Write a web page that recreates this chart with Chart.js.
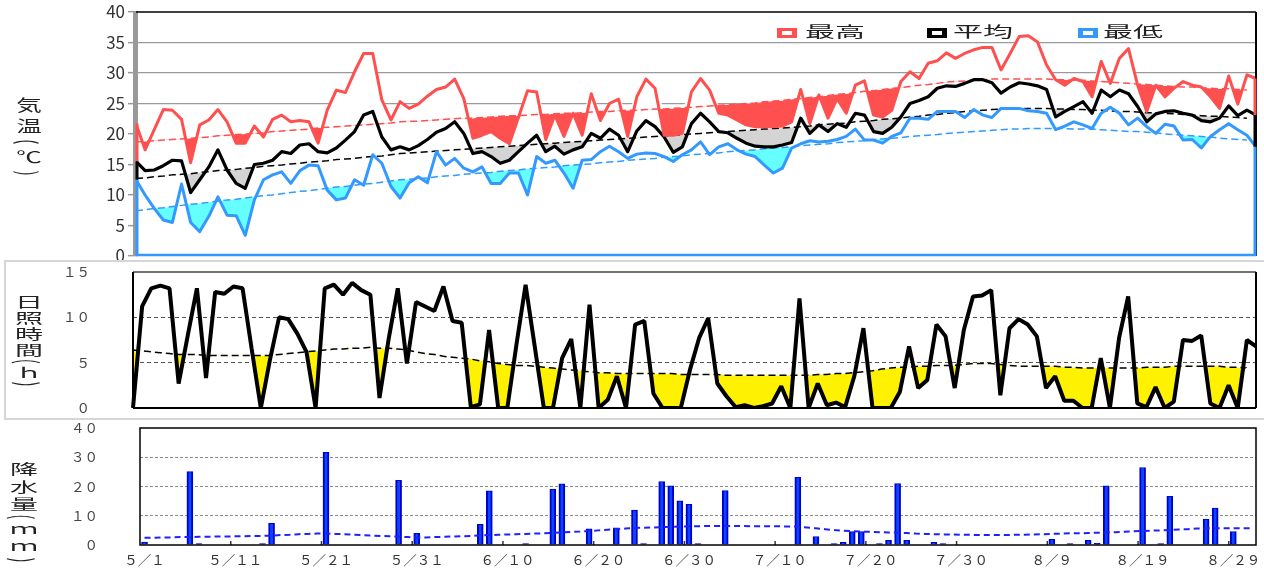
<!DOCTYPE html>
<html lang="ja">
<head>
<meta charset="utf-8">
<title>気温・日照時間・降水量</title>
<script src="https://cdn.jsdelivr.net/npm/chart.js@4.4.1/dist/chart.umd.min.js"></script>
<style>
body { margin: 0; background: #fff; font-family: "Noto Sans CJK JP", "Noto Sans", sans-serif; }
#wrap { position: relative; width: 1264px; height: 568px; overflow: hidden; }
canvas { position: absolute; left: 0; }
#tempChart { top: 0; }
#sunChart { top: 262px; }
#rainChart { top: 420px; }
.rule { position: absolute; background: #d6d6d6; }
.ytitle { position: absolute; writing-mode: vertical-rl; color: #222; transform-origin: center; white-space: nowrap; }
#t1 { left: 21px; top: 97px; font-size: 16px; line-height: 16px; letter-spacing: 5px; transform: scaleX(1.6); }
#t2 { left: 22px; top: 295px; font-size: 14px; line-height: 14px; letter-spacing: 2px; transform: scaleX(2); }
#t3 { left: 17px; top: 462px; font-size: 14px; line-height: 14px; letter-spacing: 3.5px; transform: scaleX(2); }
.lbox { position: absolute; top: 28px; width: 20px; height: 10px; box-sizing: border-box; border-style: solid; border-width: 3px 5px; background: #fff; }
.ltext { position: absolute; top: 23px; font-size: 15px; line-height: 15px; color: #222; transform: scaleX(2); transform-origin: left top; white-space: nowrap; }
</style>
</head>
<body>
<div id="wrap">
  <canvas id="tempChart" width="1264" height="262"></canvas>
  <canvas id="sunChart" width="1264" height="158"></canvas>
  <canvas id="rainChart" width="1264" height="148"></canvas>

  <div class="rule" style="left:4px; top:260px; width:1260px; height:2px"></div>
  <div class="rule" style="left:4px; top:260px; width:2px; height:160px"></div>
  <div class="rule" style="left:4px; top:418px; width:1260px; height:2px"></div>

  <div class="ytitle" id="t1">気温(℃)</div>
  <div class="ytitle" id="t2">日照時間(ｈ)</div>
  <div class="ytitle" id="t3">降水量(ｍｍ)</div>

  <div class="lbox" style="left:777px; border-color:#ff5050"></div>
  <div class="ltext" style="left:805px">最高</div>
  <div class="lbox" style="left:927px; border-color:#000"></div>
  <div class="ltext" style="left:953px">平均</div>
  <div class="lbox" style="left:1078px; border-color:#3399ff"></div>
  <div class="ltext" style="left:1103px">最低</div>
</div>

<script>
/*----- constants -----*/
const FONT = '"Noto Sans CJK JP", "Noto Sans", sans-serif'
const RED = '#ff5050'
const BLUE = '#3399ff'
const CYAN = '#66ffff'
const GRAY_FILL = '#d4d4d4'
const YELLOW = '#fff200'
const CLEAR = 'rgba(0,0,0,0)'

// 5/1 .. 9/1
const months = [5, 6, 7, 8, 9]
const monthDays = [31, 30, 31, 31, 1]
const days = []
months.forEach((m, k) => { for (let d = 1; d <= monthDays[k]; d++) days.push(m + '/' + d) })
const rainDays = days.slice(0, 123)
const labelEvery = 10

// temperature (℃), one value per day 5/1 .. 9/1
const maxTemp = [
  21.7,17.4,20.7,24.0,23.9,22.4,15.3,21.5,22.3,24.0,
  22.0,18.5,18.5,21.3,19.5,22.4,23.1,22.0,22.2,22.0,
  18.5,23.9,27.2,26.8,30.2,33.2,33.2,25.6,22.3,25.3,
  24.2,24.9,26.2,27.3,27.7,29.0,25.8,19.3,19.8,20.4,
  19.3,18.4,22.7,27.1,26.9,19.1,23.1,19.6,23.4,19.8,
  26.6,22.2,25.0,25.7,19.6,26.1,29.0,27.5,19.8,19.8,
  20.1,26.9,29.1,27.2,23.4,23.1,22.3,21.5,21.2,21.2,
  21.2,21.3,22.0,27.3,21.7,26.4,22.6,25.8,23.4,28.0,
  28.7,23.1,22.8,23.9,28.6,30.2,29.1,31.6,32.0,33.3,
  32.4,33.2,33.8,34.2,34.2,30.5,33.2,36.0,36.1,35.1,
  31.3,28.9,28.0,29.1,28.6,26.1,31.9,28.3,32.4,34.0,
  28.0,23.7,28.0,26.1,27.5,28.6,28.0,27.7,26.1,24.2,
  29.5,24.9,29.7,29.1]
const avgTemp = [
  15.5,14.0,14.1,14.8,15.7,15.6,10.4,12.5,14.6,17.4,
  14.1,11.9,11.1,15.0,15.2,15.7,17.1,16.8,18.2,18.4,
  17.1,16.9,17.7,19.0,20.4,23.1,23.7,19.5,17.4,17.9,
  17.4,18.1,19.1,20.3,20.9,22.0,20.1,16.8,17.1,16.3,
  15.2,15.7,17.1,18.5,19.8,17.1,18.0,16.7,17.4,17.9,
  20.1,19.3,20.8,19.8,17.1,20.5,22.2,21.2,19.5,17.0,
  17.9,21.7,23.4,22.0,20.4,20.2,19.3,18.5,18.0,17.9,
  17.9,18.2,18.6,22.6,20.1,21.5,20.4,21.7,21.1,23.4,
  23.1,20.4,20.1,21.1,22.8,25.0,25.5,26.1,27.5,27.9,
  27.8,28.3,28.9,28.9,28.4,26.7,27.7,28.4,28.2,27.9,
  27.3,22.8,23.7,24.5,25.3,23.4,27.2,26.1,27.2,26.6,
  24.5,22.0,23.3,23.7,23.8,23.4,23.1,22.2,22.0,22.6,
  24.6,23.0,23.9,23.1]
const minTemp = [
  12.5,10.0,7.8,5.9,5.5,11.8,5.5,4.0,6.5,9.7,
  6.7,6.6,3.4,9.2,12.5,13.3,13.8,11.9,14.0,14.9,
  14.8,10.8,9.2,9.5,12.5,11.6,16.6,15.2,11.4,9.5,
  12.0,13.0,12.0,17.1,14.9,16.0,14.4,13.8,14.6,11.9,
  11.9,13.6,13.6,10.0,16.3,15.2,15.7,13.6,11.1,15.7,
  15.8,17.1,18.0,17.1,16.0,16.7,16.9,16.8,16.3,15.5,
  16.6,17.4,18.7,16.6,17.9,18.4,17.4,16.7,16.3,14.9,
  13.6,14.4,17.7,18.4,18.9,18.7,18.8,19.1,19.6,20.8,
  19.0,19.0,18.5,19.6,20.2,22.6,22.6,22.4,23.7,23.7,
  23.7,22.7,24.0,23.1,22.7,24.2,24.2,24.2,23.8,23.7,
  23.4,20.7,21.3,22.0,21.5,20.9,23.4,24.4,23.4,21.5,
  22.6,21.2,20.1,21.6,21.3,19.0,19.1,17.7,19.6,20.7,
  21.7,20.7,19.8,17.9]

// normals (平年値), 5/1 .. 8/31
const maxNormal = [
  18.7,18.8,18.9,19.0,19.1,19.2,19.3,19.4,19.5,19.7,
  19.8,19.9,20.0,20.1,20.2,20.4,20.5,20.6,20.7,20.8,
  21.0,21.1,21.2,21.3,21.4,21.5,21.6,21.7,21.8,22.0,
  22.1,22.1,22.2,22.3,22.4,22.5,22.6,22.6,22.7,22.8,
  22.9,23.0,23.0,23.1,23.2,23.2,23.3,23.4,23.4,23.5,
  23.6,23.7,23.7,23.8,23.9,23.9,24.0,24.1,24.1,24.2,
  24.3,24.4,24.5,24.6,24.7,24.8,24.9,25.0,25.1,25.3,
  25.4,25.5,25.7,25.8,26.0,26.1,26.3,26.5,26.6,26.8,
  27.0,27.1,27.3,27.5,27.6,27.8,28.0,28.1,28.3,28.5,
  28.6,28.7,28.8,28.9,29.0,29.0,29.0,29.0,29.0,29.0,
  29.0,28.9,28.9,28.8,28.8,28.7,28.6,28.5,28.4,28.3,
  28.2,28.1,28.0,27.9,27.8,27.7,27.7,27.6,27.5,27.4,
  27.4,27.3,27.2,null]
const avgNormal = [
  12.7,12.8,13.0,13.1,13.3,13.4,13.5,13.7,13.8,14.0,
  14.1,14.2,14.4,14.5,14.7,14.8,14.9,15.1,15.2,15.4,
  15.5,15.6,15.8,15.9,16.0,16.2,16.3,16.4,16.6,16.8,
  16.9,17.0,17.1,17.2,17.3,17.4,17.5,17.6,17.7,17.8,
  17.9,18.0,18.1,18.2,18.3,18.4,18.5,18.6,18.7,18.8,
  18.9,19.0,19.1,19.2,19.3,19.4,19.5,19.6,19.7,19.8,
  19.9,20.0,20.1,20.2,20.3,20.4,20.5,20.6,20.7,20.8,
  20.9,21.0,21.1,21.2,21.3,21.5,21.6,21.7,21.8,22.0,
  22.1,22.2,22.4,22.5,22.6,22.8,22.9,23.1,23.2,23.4,
  23.5,23.7,23.8,23.9,24.0,24.1,24.1,24.2,24.2,24.2,
  24.2,24.1,24.1,24.0,24.0,23.9,23.9,23.8,23.7,23.7,
  23.6,23.5,23.5,23.4,23.3,23.2,23.1,23.0,22.9,22.9,
  22.8,22.7,22.6,null]
const minNormal = [
  7.4,7.6,7.8,7.9,8.1,8.3,8.5,8.6,8.8,9.0,
  9.2,9.3,9.5,9.7,9.9,10.0,10.2,10.4,10.6,10.7,
  10.9,11.1,11.3,11.4,11.6,11.8,11.9,12.1,12.3,12.5,
  12.6,12.7,12.8,13.0,13.1,13.2,13.4,13.5,13.6,13.7,
  13.9,14.0,14.1,14.3,14.4,14.5,14.6,14.8,14.9,15.0,
  15.1,15.3,15.4,15.5,15.7,15.8,15.9,16.0,16.2,16.3,
  16.4,16.6,16.7,16.8,16.9,17.1,17.2,17.3,17.4,17.6,
  17.7,17.8,17.9,18.1,18.2,18.3,18.4,18.6,18.7,18.8,
  18.9,19.1,19.2,19.3,19.4,19.6,19.7,19.8,19.9,20.1,
  20.2,20.3,20.4,20.5,20.6,20.7,20.8,20.8,20.9,20.9,
  20.9,20.9,20.9,20.8,20.8,20.8,20.7,20.6,20.5,20.4,
  20.4,20.3,20.2,20.0,19.9,19.8,19.7,19.6,19.5,19.3,
  19.2,19.1,19.0,null]

// sunshine hours (h), 5/1 .. 9/1
const sunHours = [
  0,11.2,13.2,13.5,13.2,2.7,8.0,13.2,3.3,12.8,
  12.6,13.4,13.2,6.5,0,5.3,10.0,9.8,8.2,6.2,
  0,13.2,13.6,12.5,13.8,13.0,12.5,1.1,7.6,13.2,
  4.9,11.7,11.2,10.7,13.4,9.6,9.4,0.1,0.4,8.6,
  0,0,7.0,13.6,6.8,0,0,5.5,7.6,0,
  11.4,0,0.9,3.5,0,9.2,9.6,1.6,0,0,
  0,4.2,7.7,9.9,2.7,1.3,0.1,0.3,0,0.2,
  0.5,2.4,0,12.1,0,2.7,0.3,0.6,0.1,3.5,
  8.8,0,0,0,1.8,6.8,2.2,3.1,9.2,7.9,
  2.2,8.6,12.3,12.4,13.0,1.4,8.8,9.8,9.2,7.9,
  2.2,3.5,0.8,0.8,0,0,5.5,0,7.7,12.3,
  0.5,0.1,2.3,0,0.7,7.5,7.4,8.0,0.5,0,
  2.5,0,7.5,6.8]
const sunNormal = [
  6.4,6.3,6.2,6.1,6.0,5.9,5.9,5.9,5.8,5.8,
  5.8,5.8,5.8,5.8,5.8,5.8,5.9,6.0,6.1,6.2,
  6.3,6.4,6.5,6.5,6.6,6.6,6.7,6.6,6.6,6.5,
  6.4,6.2,6.0,5.9,5.7,5.6,5.5,5.4,5.2,5.1,
  4.9,4.8,4.7,4.7,4.6,4.5,4.4,4.3,4.2,4.1,
  4.0,3.9,3.9,3.8,3.8,3.8,3.8,3.8,3.8,3.8,
  3.7,3.7,3.7,3.7,3.7,3.6,3.6,3.6,3.6,3.6,
  3.6,3.6,3.6,3.6,3.6,3.7,3.7,3.8,3.8,3.9,
  4.0,4.1,4.3,4.4,4.5,4.5,4.6,4.6,4.7,4.7,
  4.7,4.8,4.9,4.9,4.9,4.8,4.7,4.6,4.6,4.6,
  4.6,4.6,4.5,4.5,4.4,4.4,4.4,4.4,4.4,4.4,
  4.4,4.5,4.5,4.5,4.6,4.6,4.6,4.6,4.6,4.6,
  4.5,4.5,4.4,null]

// precipitation (mm), 5/1 .. 8/31
const rain = [
  1.0,0,0,0,0,25.1,0.5,0,0,0,
  0,0,0,0.5,7.4,0,0,0,0,0,
  31.7,0,0,0,0,0,0,0,22.1,0,
  4.0,0,0,0,0,0,0,7.1,18.5,0,
  0,0,0.5,0,0,19.1,20.9,0,0,5.5,
  0,0,5.9,0,11.9,0.5,0,21.7,20.2,15.1,
  13.9,0.5,0,0,18.6,0,0,0,0,0,
  0,0,23.1,0,2.9,0,0.5,0.9,4.6,4.6,
  0,0.5,1.6,21.0,1.6,0,0,0.9,0.5,0,
  0,0,0,0,0,0,0,0,0,0,
  1.9,0,0.5,0,1.6,0.6,20.2,0,0,0,
  26.5,0,0.5,16.6,0,0,0,8.9,12.6,0,
  4.6,0,0]
const rainNormal = [
  2.5,2.5,2.6,2.6,2.7,2.7,2.8,2.8,2.9,2.9,
  3.0,3.0,3.1,3.1,3.2,3.4,3.5,3.7,3.8,3.9,
  3.9,3.8,3.7,3.5,3.4,3.2,3.1,3.0,2.9,2.7,
  2.5,2.6,2.7,2.8,2.9,3.0,3.1,3.3,3.4,3.5,
  3.6,3.7,3.8,3.9,4.0,4.2,4.3,4.5,4.6,4.8,
  5.0,5.2,5.4,5.6,5.8,5.9,6.0,6.1,6.2,6.3,
  6.4,6.4,6.5,6.5,6.5,6.5,6.5,6.4,6.4,6.4,
  6.4,6.3,6.3,6.0,5.7,5.4,5.1,4.9,4.7,4.6,
  4.5,4.4,4.3,4.2,4.1,3.9,3.8,3.7,3.6,3.6,
  3.5,3.5,3.4,3.4,3.4,3.4,3.5,3.5,3.6,3.7,
  3.8,3.9,4.0,4.0,4.1,4.2,4.3,4.4,4.5,4.7,
  4.8,4.9,5.0,5.1,5.3,5.4,5.6,5.7,5.7,5.7,
  5.7,5.7,5.7]

// the area under the higher of max / normal max hides the grid, as in the original
const coverTop = maxTemp.map((v, i) => Math.max(v, maxNormal[i] ?? v))

/*----- helpers -----*/
const wide = s => String(s).replace(/[!-~]/g, c => String.fromCharCode(c.charCodeAt(0) + 0xFEE0))
const line = (ctx, x1, y1, x2, y2, color, w, dash) => {
  ctx.save()
  ctx.strokeStyle = color
  ctx.lineWidth = w
  ctx.setLineDash(dash || [])
  ctx.beginPath()
  ctx.moveTo(x1, y1)
  ctx.lineTo(x2, y2)
  ctx.stroke()
  ctx.restore()
}
// fixed axis size, no extra label padding pushed onto the plot
const fixWidth = w => s => { s.width = w; s.paddingTop = 0; s.paddingBottom = 0 }
const fixHeight = h => s => { s.height = h; s.paddingLeft = 0; s.paddingRight = 0 }

Chart.defaults.font.family = FONT
Chart.defaults.animation = false
Chart.defaults.plugins.legend.display = false
Chart.defaults.plugins.tooltip.enabled = false

/*----- plugins -----*/
const tempEdges = {
  id: 'tempEdges',
  afterDatasetsDraw(chart) {
    const { ctx, chartArea: a, scales: { x, y } } = chart
    line(ctx, a.left, a.top, a.right, a.top, '#000', 1.5)
    line(ctx, a.right, a.top, a.right, a.bottom, '#000', 2)
    line(ctx, a.left - 1.5, a.top, a.left - 1.5, a.bottom, '#999', 3)
    line(ctx, a.left, a.bottom - 1, a.right, a.bottom - 1, BLUE, 2.5)
    // area outlines at both ends
    ;[0, maxTemp.length - 1].forEach(i => {
      const px = x.getPixelForValue(i) + (i === 0 ? 1 : -1)
      line(ctx, px, y.getPixelForValue(maxTemp[i]), px, y.getPixelForValue(avgTemp[i]), RED, 3)
      line(ctx, px, y.getPixelForValue(avgTemp[i]), px, y.getPixelForValue(minTemp[i]), '#000', 3)
      line(ctx, px, y.getPixelForValue(minTemp[i]), px, y.getPixelForValue(0), BLUE, 3)
    })
  }
}

const sunFrame = {
  id: 'sunFrame',
  afterDatasetsDraw(chart) {
    const { ctx, chartArea: a, scales: { x, y } } = chart
    const last = sunNormal.length - 2
    const px = x.getPixelForValue(last)
    line(ctx, px, y.getPixelForValue(sunNormal[last]), px, a.bottom, '#fff', 2, [3, 2])
    line(ctx, a.left, a.top, a.right, a.top, '#444', 1.5)
    line(ctx, a.left, a.bottom, a.right, a.bottom, '#000', 2)
    line(ctx, a.left, a.top, a.left, a.bottom, '#000', 2)
    line(ctx, a.right, a.top, a.right, a.bottom, '#000', 2)
  }
}

const rainFrame = {
  id: 'rainFrame',
  afterDatasetsDraw(chart) {
    const { ctx, chartArea: a, scales: { x } } = chart
    const cw = (a.right - a.left) / rainDays.length
    rainDays.forEach((d, i) => {
      if (i % labelEvery !== 0 || i === 0) return
      const px = x.getPixelForValue(i) - cw / 2
      line(ctx, px, a.bottom, px, a.bottom - 4, '#333', 1.5)
    })
    ctx.save()
    ctx.strokeStyle = '#000'
    ctx.lineWidth = 1.5
    ctx.strokeRect(a.left, a.top, a.right - a.left, a.bottom - a.top)
    ctx.restore()
  }
}

/*----- charts -----*/
new Chart(document.getElementById('tempChart'), {
  type: 'line',
  data: {
    labels: days,
    datasets: [
      { label: '最高', data: maxTemp, borderColor: RED, borderWidth: 3,
        fill: { target: 3, above: CLEAR, below: RED }, order: 0 },
      { label: '平均', data: avgTemp, borderColor: '#000', borderWidth: 3.2,
        fill: { target: 4, above: CLEAR, below: GRAY_FILL }, order: 0 },
      { label: '最低', data: minTemp, borderColor: BLUE, borderWidth: 3,
        fill: { target: 5, above: CLEAR, below: CYAN }, order: 0 },
      { label: '最高(平年)', data: maxNormal, borderColor: RED, borderWidth: 1.5, borderDash: [7, 4], fill: false, order: 1 },
      { label: '平均(平年)', data: avgNormal, borderColor: '#000', borderWidth: 1.5, borderDash: [7, 4], fill: false, order: 1 },
      { label: '最低(平年)', data: minNormal, borderColor: BLUE, borderWidth: 1.5, borderDash: [7, 4], fill: false, order: 1 },
      { label: 'cover', data: coverTop, borderWidth: 0, borderColor: CLEAR, backgroundColor: '#fff', fill: 'origin', order: 9 }
    ]
  },
  options: {
    responsive: false,
    layout: { padding: { top: 12, bottom: 6, left: 0, right: 8 }, autoPadding: false },
    elements: { point: { radius: 0 }, line: { tension: 0, borderJoinStyle: 'round' } },
    plugins: { filler: { drawTime: 'beforeDatasetsDraw' } },
    scales: {
      x: { display: false, offset: false },
      y: {
        min: 0, max: 40,
        afterFit: fixWidth(136),
        ticks: { stepSize: 5, padding: 3, color: '#333', font: { size: 17 } },
        grid: {
          color: c => (c.tick.value >= 25 && c.tick.value < 40) ? '#9a9a9a' : CLEAR,
          lineWidth: 1.3,
          tickLength: 8, tickColor: '#999', tickWidth: 1.5
        },
        border: { color: '#999', width: 3 }
      }
    }
  },
  plugins: [tempEdges]
})

new Chart(document.getElementById('sunChart'), {
  type: 'line',
  data: {
    labels: days,
    datasets: [
      { label: '日照時間', data: sunHours, borderColor: '#000', borderWidth: 4, borderJoinStyle: 'bevel',
        fill: { target: 1, above: CLEAR, below: YELLOW }, order: 0 },
      { label: '日照時間(平年)', data: sunNormal, borderColor: '#000', borderWidth: 1.5, borderDash: [7, 4], fill: false, order: 1 }
    ]
  },
  options: {
    responsive: false,
    layout: { padding: { top: 10, bottom: 12, left: 0, right: 8 }, autoPadding: false },
    elements: { point: { radius: 0 }, line: { tension: 0 } },
    plugins: { filler: { drawTime: 'beforeDatasetsDraw' } },
    scales: {
      x: { display: false, offset: false },
      y: {
        min: 0, max: 15,
        afterFit: fixWidth(133),
        ticks: { stepSize: 5, padding: 43, color: '#444', font: { size: 13.5 }, callback: v => wide(v) },
        grid: { color: c => (c.tick.value === 5 || c.tick.value === 10) ? '#555' : CLEAR, lineWidth: 1, drawTicks: false },
        border: { display: false, dash: [4, 3] }
      }
    }
  },
  plugins: [sunFrame]
})

new Chart(document.getElementById('rainChart'), {
  type: 'bar',
  data: {
    labels: rainDays,
    datasets: [
      { type: 'line', label: '降水量(平年)', data: rainNormal, borderColor: '#2020ff', borderWidth: 2,
        borderDash: [6, 4], pointRadius: 0, tension: 0, fill: false, order: 0 },
      { type: 'bar', label: '降水量', data: rain, backgroundColor: '#0a46ff', borderColor: '#0000cc',
        borderWidth: { left: 2, right: 2, top: 1, bottom: 0 }, barThickness: 6, order: 1 }
    ]
  },
  options: {
    responsive: false,
    layout: { padding: { top: 8, bottom: 0, left: 0, right: 8 }, autoPadding: false },
    scales: {
      x: {
        offset: true,
        afterFit: fixHeight(23),
        grid: { display: false, drawTicks: false },
        border: { display: false },
        ticks: {
          autoSkip: false, maxRotation: 0, minRotation: 0, padding: 7, color: '#333', font: { size: 13.5 },
          callback: (v, i) => i % labelEvery === 0 ? wide(rainDays[i]) : ''
        }
      },
      y: {
        min: 0, max: 40,
        afterFit: fixWidth(140),
        ticks: { stepSize: 10, padding: 42, color: '#444', font: { size: 13.5 }, callback: v => wide(v) },
        grid: { color: c => (c.tick.value > 0 && c.tick.value < 40) ? '#8a8a8a' : CLEAR, lineWidth: 1, drawTicks: false },
        border: { display: false, dash: [3, 2] }
      }
    }
  },
  plugins: [rainFrame]
})
</script>
</body>
</html>
